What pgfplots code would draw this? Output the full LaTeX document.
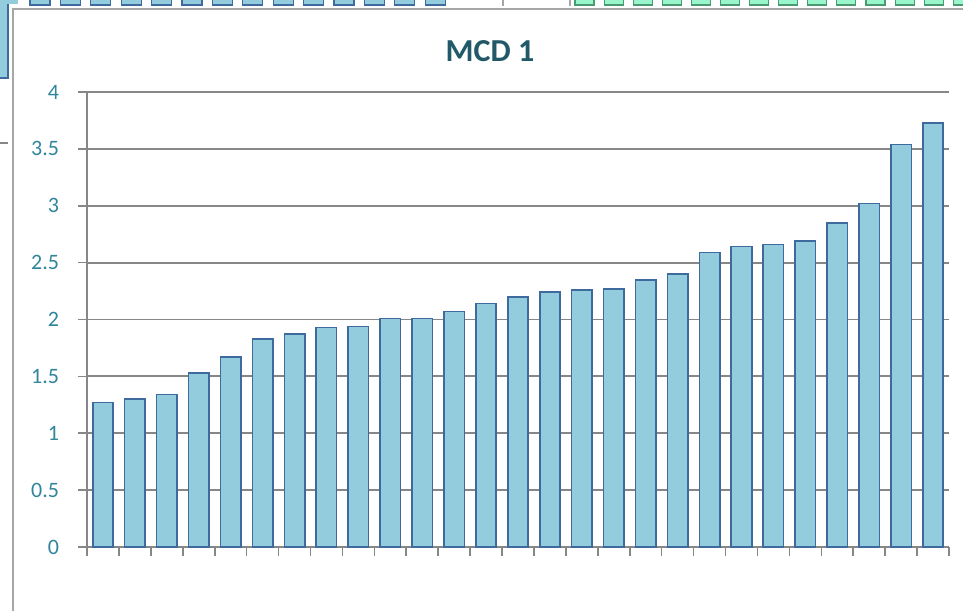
\documentclass[border=0pt]{standalone}
\usepackage{pgfplots}
\pgfplotsset{compat=1.18}
\usepackage{fontspec}
\setmainfont{Carlito}
\definecolor{barfill}{HTML}{93CDDD}
\definecolor{barline}{HTML}{3E6A9E}
\definecolor{gridc}{HTML}{878787}
\definecolor{tickc}{HTML}{31859C}
\definecolor{titlec}{HTML}{215968}
\definecolor{framec}{HTML}{A6A6A6}
\definecolor{greenfill}{HTML}{99F5CC}
\definecolor{greenline}{HTML}{4A9A72}
\begin{document}
\begin{tikzpicture}[x=0.75pt,y=0.75pt]
\useasboundingbox (0,0) rectangle (963,610);
% surrounding sheet fragments
\fill[white] (0,0) rectangle (963,610);
\foreach \i in {0,...,13} {
  \filldraw[fill=barfill,draw=barline,line width=0.8pt] ({30+30.4*\i},605) rectangle ({50+30.4*\i},612);
}
\foreach \i in {0,...,13} {
  \filldraw[fill=greenfill,draw=greenline,line width=0.8pt] ({575+29.1*\i},605) rectangle ({594+29.1*\i},612);
}
\filldraw[fill=barfill,draw=barline,line width=0.8pt] (-2,532) rectangle (8,612);
\fill[barfill] (0,606) rectangle (18,610);
\draw[framec,line width=1pt] (503,604) -- (503,610);
\draw[framec,line width=1pt] (570,604) -- (570,610);
\draw[gridc,line width=1pt] (0,467) -- (8,467);
% chart frame
\draw[framec,line width=1.6pt] (12.7,-2) -- (12.7,600.7) -- (965,600.7);
\begin{axis}[
  at={(65.25pt,47.25pt)}, anchor=south west,
  scale only axis,
  width=646.5pt, height=341.25pt,
  xmin=0.5, xmax=27.5, ymin=0, ymax=4,
  axis x line*=bottom, axis y line*=left,
  axis line style={gridc,line width=1.4pt},
  xtick={0.5,1.5,...,27.5}, xticklabels={},
  ytick={0,0.5,...,4},
  yticklabels={0,0.5,1,1.5,2,2.5,3,3.5,4},
  tick align=outside,
  major tick length=6.5pt,
  tick style={gridc,line width=1.2pt},
  ymajorgrids,
  grid style={gridc,line width=1.4pt},
  yticklabel style={font=\fontsize{16.5pt}{18pt}\selectfont,text=tickc,xshift=-11pt},
  /pgf/number format/assume math mode=true,
  title={\textbf{MCD 1}},
  title style={at={(axis description cs:0.4675,1.0725)},anchor=center,font=\fontsize{24pt}{26pt}\selectfont,text=titlec},
  ybar, bar width=0.64,
  clip=false,
]
\addplot[fill=barfill,draw=barline,line width=1.2pt] coordinates {
(1,1.27) (2,1.30) (3,1.34) (4,1.53) (5,1.67) (6,1.83) (7,1.875) (8,1.93) (9,1.94)
(10,2.01) (11,2.01) (12,2.07) (13,2.14) (14,2.20) (15,2.24) (16,2.26) (17,2.27)
(18,2.345) (19,2.40) (20,2.59) (21,2.64) (22,2.66) (23,2.69) (24,2.85) (25,3.02)
(26,3.54) (27,3.73)
};
\end{axis}
\end{tikzpicture}
\end{document}
